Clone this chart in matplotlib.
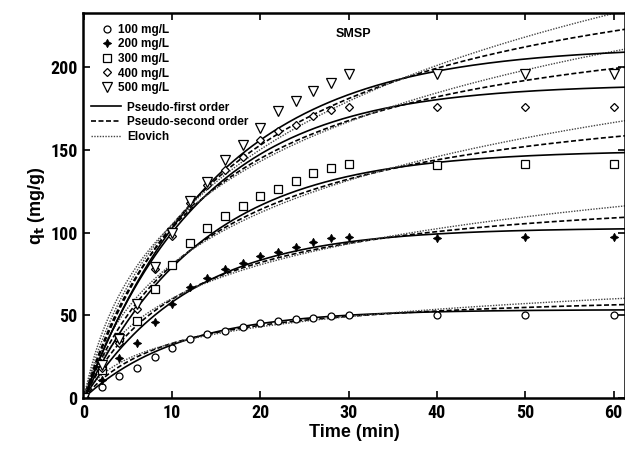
"""Adsorption kinetics on SMSP: measured uptake and three kinetic model fits."""

import matplotlib
matplotlib.use("Agg")
import matplotlib.pyplot as plt
import numpy as np
from matplotlib import font_manager
from matplotlib.lines import Line2D

plt.rcParams["font.family"] = ["Liberation Sans", "DejaVu Sans"]
plt.rcParams["font.weight"] = "bold"

installed = {f.name for f in font_manager.fontManager.ttflist}
NARROW = [n for n in ("Liberation Sans Narrow", "Roboto Condensed")
          if n in installed] + ["Liberation Sans"]
TICK_SIZE = 13 if NARROW[0] != "Liberation Sans" else 11.5

# contact time (min)
time = [0, 2, 4, 6, 8, 10, 12, 14, 16, 18, 20, 22, 24, 26, 28, 30, 40, 50, 60]

# measured q_t (mg/g) for each initial concentration
q_100 = [0, 6.7, 13.3, 18, 24.8, 30, 35.8, 38.8, 40.6, 43, 45.4, 46.7, 48, 48.5,
         49.7, 50.5, 50.5, 50, 50]
q_200 = [0, 11, 24, 33.5, 46, 57, 67.3, 72.5, 77.8, 81.7, 85.8, 88.5, 91.5, 94.5,
         97, 97.6, 97, 97.6, 97.6]
q_300 = [0, 17, 37, 46.8, 66, 80.6, 94, 103, 110, 116, 122.4, 126.7, 131.5, 136.4,
         139.4, 141.8, 141, 141.8, 141.8]
q_400 = [0, 18, 33, 54, 78, 98, 118, 129, 138, 146, 156, 161.5, 165.5, 170.5,
         174.2, 176.2, 176.2, 176.2, 176.2]
q_500 = [0, 20, 36, 57, 79, 100, 119, 131, 144, 153, 163.4, 173.5, 180, 186,
         190.7, 195.8, 195.8, 195.8, 195.8]

conc_labels = ["100 mg/L", "200 mg/L", "300 mg/L", "400 mg/L", "500 mg/L"]

# fitted parameters, one entry per concentration
pfo_qe = [53.5, 103, 150, 190, 213]            # mg/g
pfo_k1 = [0.092, 0.083, 0.075, 0.075, 0.066]   # 1/min
pso_qe = [65.6, 130.4, 195.8, 245.4, 286.6]    # mg/g
pso_k2 = [0.00155, 0.00065, 0.000356, 0.000294, 0.0002]  # g/(mg min)
elo_alpha = [10.93, 16.8, 18.9, 26.1, 21.0]    # mg/(g min)
elo_beta = [0.0622, 0.0297, 0.01855, 0.01535, 0.01192]   # g/mg


def pseudo_first(t, qe, k1):
    return qe * (1 - np.exp(-k1 * t))


def pseudo_second(t, qe, k2):
    return qe ** 2 * k2 * t / (1 + qe * k2 * t)


def elovich(t, a, b):
    return np.log(1 + a * b * t) / b


fig = plt.figure(figsize=(6.25, 4.53), dpi=100)
ax = fig.add_axes([0.1328, 0.1214, 0.8672, 0.8500])

series = [q_100, q_200, q_300, q_400, q_500]
markers = [
    dict(marker="o", ms=5, mfc="white", mec="black", mew=0.9),
    dict(marker=(4, 1, 0), ms=6, mfc="black", mec="black", mew=0.6),
    dict(marker="s", ms=5.5, mfc="white", mec="black", mew=0.9),
    dict(marker="D", ms=4.5, mfc="white", mec="black", mew=0.9),
    dict(marker="v", ms=7, mfc="white", mec="black", mew=0.9),
]

tt = np.linspace(0, 62, 400)
for i in range(5):
    ax.plot(tt, pseudo_first(tt, pfo_qe[i], pfo_k1[i]), color="black",
            lw=1.2, ls="-")
    ax.plot(tt, pseudo_second(tt, pso_qe[i], pso_k2[i]), color="black",
            lw=1.2, ls=(0, (3, 1.5)))
    ax.plot(tt, elovich(tt, elo_alpha[i], elo_beta[i]), color="#444444",
            lw=1.0, ls=(0, (1, 1)))
for i, q in enumerate(series):
    ax.plot(time, q, ls="none", **markers[i])

ax.set_xlim(-0.1, 61.3)
ax.set_ylim(0, 233)
ax.set_xticks([0, 10, 20, 30, 40, 50, 60])
ax.set_yticks([0, 50, 100, 150, 200])
ax.tick_params(direction="in", length=5, width=1.2, top=True, right=True,
               labelsize=TICK_SIZE, pad=4)
for lab in ax.get_xticklabels() + ax.get_yticklabels():
    lab.set_family(NARROW)
    lab.set_fontweight("bold")
for sp in ax.spines.values():
    sp.set_linewidth(1.8)

ax.set_xlabel("Time (min)", fontsize=13, fontweight="bold", labelpad=2)
ax.set_ylabel("q$_\\mathbf{t}$ (mg/g)", fontsize=13, fontweight="bold",
              labelpad=2)
ax.text(30.5, 220, "SMSP", ha="center", va="center", fontsize=9,
        fontweight="bold")

marker_handles = [Line2D([], [], ls="none", **m) for m in markers]
leg1 = ax.legend(marker_handles, conc_labels, loc="upper left",
                 bbox_to_anchor=(0.032, 0.975), frameon=False, fontsize=8.5,
                 handlelength=1.0, handletextpad=0.4, labelspacing=0.22,
                 borderpad=0.1, borderaxespad=0)
ax.add_artist(leg1)

line_handles = [
    Line2D([], [], color="black", lw=1.2, ls="-"),
    Line2D([], [], color="black", lw=1.2, ls=(0, (3, 1.5))),
    Line2D([], [], color="#444444", lw=1.0, ls=(0, (1, 1))),
]
ax.legend(line_handles, ["Pseudo-first order", "Pseudo-second order", "Elovich"],
          loc="upper left", bbox_to_anchor=(0.012, 0.773), frameon=False,
          fontsize=8.5, handlelength=2.6, handletextpad=0.5, labelspacing=0.25,
          borderpad=0.1, borderaxespad=0)

fig.savefig("out.png", dpi=100)
